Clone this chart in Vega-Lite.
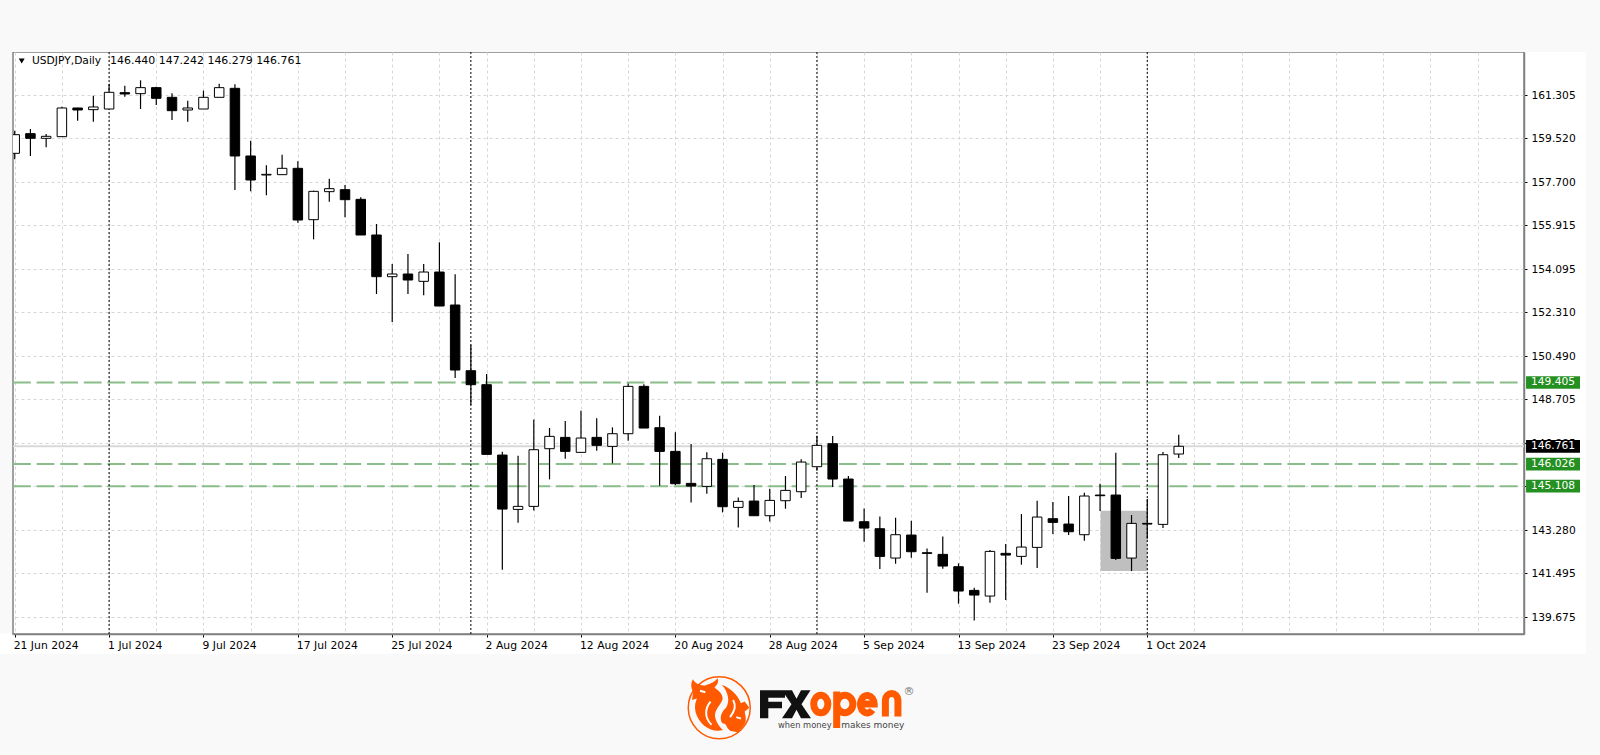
{"$schema":"https://vega.github.io/schema/vega-lite/v6.json","width":1511,"height":582,"autosize":"none","padding":{"left":13,"top":52,"right":76,"bottom":121},"background":"#ffffff","config":{"view":{"stroke":"#808080","strokeWidth":1.5},"font":"DejaVu Sans"},
"datasets":{"one":[{"k":1}],
"candles":[
{"date":"2024-06-21","i":0,"open":158.90,"high":159.84,"low":158.652,"close":159.674,"dir":"up"},
{"date":"2024-06-24","i":1,"open":159.715,"high":159.909,"low":158.79,"close":159.522,"dir":"down"},
{"date":"2024-06-25","i":2,"open":159.522,"high":159.70,"low":159.149,"close":159.605,"dir":"up"},
{"date":"2024-06-26","i":3,"open":159.591,"high":160.834,"low":159.577,"close":160.779,"dir":"up"},
{"date":"2024-06-27","i":4,"open":160.779,"high":160.793,"low":160.254,"close":160.696,"dir":"down"},
{"date":"2024-06-28","i":5,"open":160.71,"high":161.29,"low":160.213,"close":160.82,"dir":"up"},
{"date":"2024-07-01","i":6,"open":160.737,"high":161.774,"low":160.724,"close":161.428,"dir":"up"},
{"date":"2024-07-02","i":7,"open":161.414,"high":161.704,"low":161.249,"close":161.359,"dir":"down"},
{"date":"2024-07-03","i":8,"open":161.373,"high":161.926,"low":160.737,"close":161.622,"dir":"up"},
{"date":"2024-07-04","i":9,"open":161.622,"high":161.663,"low":160.903,"close":161.18,"dir":"down"},
{"date":"2024-07-05","i":10,"open":161.221,"high":161.387,"low":160.282,"close":160.668,"dir":"down"},
{"date":"2024-07-08","i":11,"open":160.696,"high":161.083,"low":160.213,"close":160.779,"dir":"up"},
{"date":"2024-07-09","i":12,"open":160.737,"high":161.497,"low":160.737,"close":161.221,"dir":"up"},
{"date":"2024-07-10","i":13,"open":161.221,"high":161.787,"low":161.221,"close":161.622,"dir":"up"},
{"date":"2024-07-11","i":14,"open":161.594,"high":161.76,"low":157.381,"close":158.79,"dir":"down"},
{"date":"2024-07-12","i":15,"open":158.79,"high":159.425,"low":157.325,"close":157.795,"dir":"down"},
{"date":"2024-07-15","i":16,"open":158.002,"high":158.403,"low":157.16,"close":158.03,"dir":"up"},
{"date":"2024-07-16","i":17,"open":158.016,"high":158.845,"low":158.016,"close":158.279,"dir":"up"},
{"date":"2024-07-17","i":18,"open":158.279,"high":158.569,"low":156.027,"close":156.137,"dir":"down"},
{"date":"2024-07-18","i":19,"open":156.151,"high":157.353,"low":155.336,"close":157.325,"dir":"up"},
{"date":"2024-07-19","i":20,"open":157.312,"high":157.85,"low":156.897,"close":157.436,"dir":"up"},
{"date":"2024-07-22","i":21,"open":157.395,"high":157.588,"low":156.248,"close":156.98,"dir":"down"},
{"date":"2024-07-23","i":22,"open":156.994,"high":157.077,"low":155.516,"close":155.516,"dir":"down"},
{"date":"2024-07-24","i":23,"open":155.516,"high":155.972,"low":153.071,"close":153.789,"dir":"down"},
{"date":"2024-07-25","i":24,"open":153.789,"high":154.314,"low":151.91,"close":153.9,"dir":"up"},
{"date":"2024-07-26","i":25,"open":153.9,"high":154.728,"low":153.071,"close":153.651,"dir":"down"},
{"date":"2024-07-29","i":26,"open":153.596,"high":154.314,"low":153.015,"close":153.982,"dir":"up"},
{"date":"2024-07-30","i":27,"open":153.982,"high":155.212,"low":152.573,"close":152.573,"dir":"down"},
{"date":"2024-07-31","i":28,"open":152.615,"high":153.886,"low":149.589,"close":149.921,"dir":"down"},
{"date":"2024-08-01","i":29,"open":149.893,"high":150.971,"low":148.47,"close":149.313,"dir":"down"},
{"date":"2024-08-02","i":30,"open":149.313,"high":149.755,"low":146.42,"close":146.426,"dir":"down"},
{"date":"2024-08-05","i":31,"open":146.398,"high":146.536,"low":141.646,"close":144.16,"dir":"down"},
{"date":"2024-08-06","i":32,"open":144.146,"high":146.371,"low":143.594,"close":144.271,"dir":"up"},
{"date":"2024-08-07","i":33,"open":144.271,"high":147.876,"low":144.105,"close":146.619,"dir":"up"},
{"date":"2024-08-08","i":34,"open":146.661,"high":147.517,"low":145.39,"close":147.172,"dir":"up"},
{"date":"2024-08-09","i":35,"open":147.13,"high":147.807,"low":146.246,"close":146.55,"dir":"down"},
{"date":"2024-08-12","i":36,"open":146.509,"high":148.235,"low":146.495,"close":147.103,"dir":"up"},
{"date":"2024-08-13","i":37,"open":147.13,"high":147.918,"low":146.578,"close":146.799,"dir":"down"},
{"date":"2024-08-14","i":38,"open":146.757,"high":147.545,"low":146.053,"close":147.282,"dir":"up"},
{"date":"2024-08-15","i":39,"open":147.282,"high":149.368,"low":146.992,"close":149.244,"dir":"up"},
{"date":"2024-08-16","i":40,"open":149.244,"high":149.327,"low":147.517,"close":147.517,"dir":"down"},
{"date":"2024-08-19","i":41,"open":147.531,"high":148.028,"low":145.127,"close":146.55,"dir":"down"},
{"date":"2024-08-20","i":42,"open":146.55,"high":147.338,"low":145.155,"close":145.21,"dir":"down"},
{"date":"2024-08-21","i":43,"open":145.224,"high":146.854,"low":144.437,"close":145.113,"dir":"down"},
{"date":"2024-08-22","i":44,"open":145.1,"high":146.509,"low":144.796,"close":146.246,"dir":"up"},
{"date":"2024-08-23","i":45,"open":146.219,"high":146.495,"low":144.022,"close":144.257,"dir":"down"},
{"date":"2024-08-26","i":46,"open":144.229,"high":144.644,"low":143.401,"close":144.478,"dir":"up"},
{"date":"2024-08-27","i":47,"open":144.492,"high":145.155,"low":143.884,"close":143.884,"dir":"down"},
{"date":"2024-08-28","i":48,"open":143.884,"high":145.003,"low":143.649,"close":144.519,"dir":"up"},
{"date":"2024-08-29","i":49,"open":144.506,"high":145.528,"low":144.174,"close":144.934,"dir":"up"},
{"date":"2024-08-30","i":50,"open":144.879,"high":146.219,"low":144.616,"close":146.108,"dir":"up"},
{"date":"2024-09-02","i":51,"open":145.915,"high":147.199,"low":145.749,"close":146.799,"dir":"up"},
{"date":"2024-09-03","i":52,"open":146.868,"high":147.186,"low":145.072,"close":145.404,"dir":"down"},
{"date":"2024-09-04","i":53,"open":145.404,"high":145.528,"low":143.663,"close":143.663,"dir":"down"},
{"date":"2024-09-05","i":54,"open":143.635,"high":144.188,"low":142.807,"close":143.373,"dir":"down"},
{"date":"2024-09-06","i":55,"open":143.345,"high":143.856,"low":141.674,"close":142.199,"dir":"down"},
{"date":"2024-09-09","i":56,"open":142.13,"high":143.801,"low":141.895,"close":143.097,"dir":"up"},
{"date":"2024-09-10","i":57,"open":143.083,"high":143.677,"low":142.143,"close":142.392,"dir":"down"},
{"date":"2024-09-11","i":58,"open":142.351,"high":142.53,"low":140.693,"close":142.323,"dir":"down"},
{"date":"2024-09-12","i":59,"open":142.282,"high":143.028,"low":141.688,"close":141.799,"dir":"down"},
{"date":"2024-09-13","i":60,"open":141.771,"high":141.909,"low":140.238,"close":140.763,"dir":"down"},
{"date":"2024-09-16","i":61,"open":140.79,"high":140.901,"low":139.547,"close":140.597,"dir":"down"},
{"date":"2024-09-17","i":62,"open":140.555,"high":142.462,"low":140.279,"close":142.406,"dir":"up"},
{"date":"2024-09-18","i":63,"open":142.324,"high":142.71,"low":140.39,"close":142.254,"dir":"down"},
{"date":"2024-09-19","i":64,"open":142.199,"high":143.954,"low":141.854,"close":142.586,"dir":"up"},
{"date":"2024-09-20","i":65,"open":142.572,"high":144.506,"low":141.716,"close":143.829,"dir":"up"},
{"date":"2024-09-23","i":66,"open":143.76,"high":144.451,"low":143.125,"close":143.608,"dir":"down"},
{"date":"2024-09-24","i":67,"open":143.539,"high":144.7,"low":143.083,"close":143.221,"dir":"down"},
{"date":"2024-09-25","i":68,"open":143.097,"high":144.838,"low":142.848,"close":144.7,"dir":"up"},
{"date":"2024-09-26","i":69,"open":144.741,"high":145.211,"low":144.078,"close":144.713,"dir":"down"},
{"date":"2024-09-27","i":70,"open":144.741,"high":146.495,"low":142.047,"close":142.116,"dir":"down"},
{"date":"2024-09-30","i":71,"open":142.13,"high":143.912,"low":141.591,"close":143.567,"dir":"up"},
{"date":"2024-10-01","i":72,"open":143.567,"high":144.575,"low":142.931,"close":143.539,"dir":"down"},
{"date":"2024-10-02","i":73,"open":143.525,"high":146.523,"low":143.373,"close":146.412,"dir":"up"},
{"date":"2024-10-03","i":74,"open":146.44,"high":147.242,"low":146.279,"close":146.761,"dir":"up"}],
"levels":[{"price":149.405,"kind":"level"},{"price":146.026,"kind":"level"},{"price":145.108,"kind":"level"},{"price":146.761,"kind":"last"}],
"months":[{"date":"2024-07-01","i":6},{"date":"2024-08-01","i":29},{"date":"2024-09-02","i":51},{"date":"2024-10-01","i":72}]},
"data":{"name":"candles"},
"layer":[
{"data":{"name":"one"},"mark":{"type":"rect","color":"#f9f9f9","clip":false},"encoding":{"x":{"datum":-1},"x2":{"datum":-0.17},"y":{"datum":139},"y2":{"datum":163.1}}},
{"data":{"name":"one"},"mark":{"type":"rect","color":"#f9f9f9","clip":false},"encoding":{"x":{"datum":-1},"x2":{"datum":103},"y":{"datum":163.1},"y2":{"datum":167}}},
{"data":{"name":"one"},"mark":{"type":"rect","color":"#f9f9f9","clip":false},"encoding":{"x":{"datum":-1},"x2":{"datum":103},"y":{"datum":138.152},"y2":{"datum":133}}},
{"data":{"name":"one"},"mark":{"type":"rect","color":"#f9f9f9","clip":false},"encoding":{"x":{"datum":99.89},"x2":{"datum":103},"y":{"datum":133},"y2":{"datum":167}}},
{"data":{"name":"one"},"mark":{"type":"rect","color":"#bfbfbf","clip":true},"encoding":{"x":{"datum":69.03},"x2":{"datum":72},"y":{"datum":144.092},"y2":{"datum":141.591}}},
{"data":{"name":"levels"},"transform":[{"filter":"datum.kind=='last'"}],"mark":{"type":"rule","stroke":"#d9d9d9","strokeWidth":2,"clip":true},"encoding":{"y":{"field":"price","type":"quantitative"}}},
{"data":{"name":"levels"},"transform":[{"filter":"datum.kind=='level'"}],"mark":{"type":"rule","stroke":"#8abd8a","strokeWidth":2,"strokeDash":[17.8,5.8],"clip":true},"encoding":{"x":{"datum":-0.108},"x2":{"datum":95.95},"y":{"field":"price","type":"quantitative"}}},
{"data":{"name":"months"},"mark":{"type":"rule","stroke":"#000000","strokeWidth":1,"strokeDash":[2,2],"clip":true},"encoding":{"x":{"field":"i","type":"quantitative"}}},
{"mark":{"type":"rule","stroke":"#000000","strokeWidth":1.2,"clip":true},"encoding":{
"x":{"field":"i","type":"quantitative","title":null,"scale":{"domain":[-0.108,95.95],"nice":false,"zero":false,"padding":0},"axis":{"values":[0,3,6,9,12,15,18,21,24,27,30,33,36,39,42,45,48,51,54,57,60,63,66,69,72,75,78,81,84,87,90,93],"title":null,"grid":true,"gridColor":"#d6d6d6","gridDash":[3,3],"gridWidth":1,"domainColor":"#808080","domainWidth":1.5,"tickColor":"#000000","tickSize":3,"tickOpacity":{"condition":{"test":"datum.value%6==0&&datum.value<=72","value":1},"value":0},"labelAlign":"left","labelBaseline":"top","labelColor":"#000000","labelFont":"DejaVu Sans","labelFontSize":10.8,"labelPadding":2,"labelOffset":-1.5,"labelAngle":0,"labelOverlap":false,"labelBound":false,"labelFlush":false,"labelExpr":"datum.value%6==0&&datum.value<=72?['21 Jun 2024','1 Jul 2024','9 Jul 2024','17 Jul 2024','25 Jul 2024','2 Aug 2024','12 Aug 2024','20 Aug 2024','28 Aug 2024','5 Sep 2024','13 Sep 2024','23 Sep 2024','1 Oct 2024'][datum.value/6]:''"}},
"y":{"field":"low","type":"quantitative","title":null,"scale":{"domain":[138.983,163.099],"nice":false,"zero":false},"axis":{"orient":"right","values":[161.305,159.52,157.7,155.915,154.095,152.31,150.49,148.705,146.885,145.1,143.28,141.495,139.675],"format":".3f","title":null,"grid":true,"gridColor":"#d6d6d6","gridDash":[3,3],"gridWidth":1,"domainColor":"#808080","domainWidth":1.5,"tickColor":"#000000","tickSize":3,"labelColor":"#000000","labelFont":"DejaVu Sans","labelFontSize":10.7,"labelPadding":4,"labelOverlap":false,"labelBound":false,"labelFlush":false}},
"y2":{"field":"high"}}},
{"mark":{"type":"bar","size":9.5,"stroke":"#000000","strokeWidth":1,"clip":true},"encoding":{"x":{"field":"i","type":"quantitative"},"y":{"field":"open","type":"quantitative"},"y2":{"field":"close"},"fill":{"field":"dir","type":"nominal","legend":null,"scale":{"domain":["up","down"],"range":["#ffffff","#000000"]}}}},
{"data":{"name":"levels"},"mark":{"type":"rule","strokeWidth":12.7,"clip":false},"encoding":{"x":{"datum":96.08},"x2":{"datum":99.51},"y":{"field":"price","type":"quantitative"},"stroke":{"field":"kind","type":"nominal","legend":null,"scale":{"domain":["level","last"],"range":["#259022","#000000"]}}}},
{"data":{"name":"levels"},"mark":{"type":"text","align":"left","baseline":"middle","font":"DejaVu Sans","fontSize":10.7,"color":"#ffffff","clip":false},"encoding":{"x":{"datum":96.39},"y":{"field":"price","type":"quantitative"},"text":{"field":"price","type":"quantitative","format":".3f"}}},
{"data":{"name":"one"},"mark":{"type":"point","shape":"triangle-down","filled":true,"color":"#000000","size":36,"opacity":1},"encoding":{"x":{"datum":0.445},"y":{"datum":162.727}}},
{"data":{"name":"one"},"mark":{"type":"text","text":"USDJPY,Daily","align":"left","baseline":"middle","font":"DejaVu Sans","fontSize":10.7,"color":"#000000"},"encoding":{"x":{"datum":1.1},"y":{"datum":162.727}}},
{"data":{"name":"one"},"mark":{"type":"text","text":"146.440 147.242 146.279 146.761","align":"left","baseline":"middle","font":"DejaVu Sans","fontSize":10.95,"color":"#000000"},"encoding":{"x":{"datum":6.06},"y":{"datum":162.727}}},
{"data":{"name":"one"},"mark":{"type":"point","shape":"circle","filled":false,"stroke":"#ff5a00","strokeWidth":1.5,"size":3844,"opacity":1,"clip":false},"encoding":{"x":{"datum":44.79},"y":{"datum":135.926}}},
{"data":{"name":"one"},"mark":{"type":"point","shape":"M-.85-.92C-.75-.75-.6-.72-.45-.72C-.3-.78-.2-.78-.05-.95C0-.8-.1-.72-.15-.65C0-.55.15-.4.1-.25C.02-.05-.2.1-.12.35C-.08.5.02.62.12.72C-.25.82-.65.55-.76.15C-.8-.05-.78-.15-.72-.3L-.88-.25L-.84-.5C-.92-.65-.92-.8-.85-.92ZM.08-.74C.35-.65.6-.4.7-.15L.82-.2L.97 0L.82.12C.85.3.9.45.78.58L.62.8L.35.74C.2.62.25.5.1.5C0 .35.05.15.22 0C.35-.2.3-.5.08-.74Z","filled":true,"color":"#ff5a00","size":3844,"opacity":1,"clip":false},"encoding":{"x":{"datum":44.79},"y":{"datum":135.926}}},
{"data":{"name":"one"},"mark":{"type":"point","shape":"M-.28-.2C-.45 0-.5.3-.25.55M.45-.25C.55-.05.5.1.35.3M-.62-.55L-.45-.5M.55.3L.7.35","filled":false,"fill":"transparent","stroke":"#ffffff","strokeWidth":2,"size":3844,"opacity":1,"clip":false},"encoding":{"x":{"datum":44.79},"y":{"datum":135.926}}},
{"data":{"name":"one"},"mark":{"type":"point","shape":"M-25-14H0V-6.5H-16.7V-2.5H-3V4H-16.7V14H-25ZM-3-14H7L11.5-5.5L16-14H25.5L16.5 0L26 14H16L11.5 5.5L7 14H-3L6.5 0Z","filled":true,"color":"#111111","size":4,"opacity":1,"clip":false},"encoding":{"x":{"datum":48.97},"y":{"datum":136.07}}},
{"data":{"name":"one"},"mark":{"type":"point","shape":"M-42.25 0A7.1 8.75 0 1 1-28.05 0A7.1 8.75 0 1 1-42.25 0ZM-19.25-12.5L-19.25 24M-19.25 0A8.1 8.75 0 1 1-3.05 0A8.1 8.75 0 1 1-19.25 0ZM4.45 0L18.25 0A6.9 8.75 0 1 0 16.5 6M29.45 12.5L29.45-3C29.45-13 42-13 42-3L42 12.5","filled":false,"fill":"transparent","stroke":"#ff5a00","strokeWidth":7,"size":4,"opacity":1,"clip":false},"encoding":{"x":{"datum":53.48},"y":{"datum":136.08}}},
{"data":{"name":"one"},"mark":{"type":"text","text":"®","align":"center","baseline":"middle","font":"DejaVu Sans","fontSize":11,"color":"#777777","clip":false},"encoding":{"x":{"datum":56.85},"y":{"datum":136.6}}},
{"data":{"name":"one"},"mark":{"type":"text","text":"when money","align":"left","baseline":"alphabetic","font":"DejaVu Sans","fontSize":8.3,"color":"#444444","clip":false},"encoding":{"x":{"datum":48.53},"y":{"datum":135.085}}},
{"data":{"name":"one"},"mark":{"type":"text","text":"makes money","align":"left","baseline":"alphabetic","font":"DejaVu Sans","fontSize":9,"color":"#444444","clip":false},"encoding":{"x":{"datum":52.55},"y":{"datum":135.085}}}
]}
